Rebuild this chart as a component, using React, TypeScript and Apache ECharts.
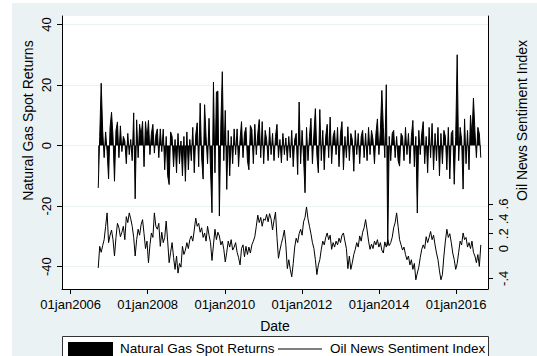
import React, { useEffect, useRef } from "react";
import * as echarts from "echarts";

// Biweekly observations starting on this date
const startDate = "2006-09-19";
const stepDays = 14;

// Natural Gas Spot Returns (left axis)
const returns: number[] = [
  -14, 3, 20.6, 5, -4, 4.5, -2, -11, 6, 11,
  3, -11.8, 5, 7.8, -4, 6.5, -2, 3, 1.5, -6,
  4, -3, 2, -5, 10.8, -17.6, 8.5, -4, 7, 3,
  8, -7, 7.9, 2, 8.3, -3, 4, 7, -2.5, 3.5,
  5.5, -4, 5.5, -2, 5.4, -8, 3, -10, -12.9, 4.5,
  3, -7, 2, -9, 4, -6, 1.5, -10, 3, -11.8,
  4.5, -8, 2, -5, 6, -9, 3.5, 7.5, -7, 14,
  -4, -11.1, 13.5, 3, -6, 9, -8, -22.2, 21, -9,
  17.7, 18, -23.3, 7, 24.4, -5, 11.6, -14.5, 5, -10,
  3, -6, 5.5, -3, 5.5, -7, 2, 7.9, -4, 4,
  6, -5, -8, 6.6, 5.3, -6, 7, -3, 4, 8.6,
  -4, 7.9, -6, 5, 2, -5, 6, -3, 4, -5,
  3, 7, -4, 2, -5.7, 4, -3, 2.5, -5, 3,
  -4, 5, -7, 2, 4, -9.6, 14.4, -6, 5, -4,
  -15.6, 6, -5, 3, 9, -6, 4, 12.2, -3, -9,
  11.9, -5, 5, -8, 3, 7, -4, 9.4, -6, 3,
  5, -3, 6, -7, 4, 7.9, -8, 3, -4, 6.2,
  -5, 4, 2, -8.5, 5, -3, 4, -6, 3, 5,
  -4, 4, -5, 6, -3, 5, 2, -6, 4, 8.8,
  -3, 5, 18.2, 6, -4, 20.1, -33, 3, -5, 4,
  5, -4, 3, -5, -6.8, 4, 3, -5, 6, -3,
  4, -6, 3, 8.3, -7, 3, -22.3, 5, -3, 4,
  7.9, -6, 3, -9, 6, -4, 7.3, -8, 4, -5,
  6, -10, 4, -6, 5, 3, -8, 6, -11, 4,
  5, -12.8, 3, 30, -5, 6, 2, -14.4, 8.8, -6,
  5, -8, 10, 3, 15.7, 5, -4, 6, 3.9, -4,
];

// Oil News Sentiment Index (right axis)
const sentiment: number[] = [
  -0.26, 0.03, -0.05, 0.04, 0.12, 0.3, 0.48, 0.08, 0.18, 0.25,
  0.12, -0.1, 0.15, 0.34, 0.28, 0.16, 0.22, 0.3, 0.12, 0.43,
  0.35, 0.48, 0.4, 0.3, 0.15, -0.1, 0.12, 0.26, 0.18, 0.32,
  0.39, 0.2, 0.0, 0.1, -0.19, 0.05, 0.21, 0.15, 0.48, 0.3,
  0.26, 0.34, 0.03, 0.22, 0.08, 0.15, 0.37, 0.1, -0.19, -0.05,
  0.08, -0.12, -0.28, -0.1, -0.33, -0.2, -0.25, 0.03, -0.08, -0.02,
  0.08, 0.0, 0.12, 0.17, 0.1, 0.25, 0.41, 0.3, 0.34, 0.22,
  0.28, 0.15, 0.21, 0.1, 0.3, 0.18, 0.08, -0.16, 0.05, 0.26,
  0.12, 0.22, 0.17, 0.05, 0.1, -0.01, -0.18, -0.05, 0.1, 0.02,
  0.12, -0.02, 0.02, 0.08, -0.05, -0.12, -0.22, 0.0, 0.05, -0.11,
  0.03, -0.08, 0.02, -0.06, 0.05, 0.1, 0.16, 0.3, 0.45, 0.35,
  0.42, 0.3, 0.4, 0.38, 0.46, 0.36, 0.47, 0.4, 0.25, 0.38,
  0.49, 0.15, -0.13, -0.02, 0.07, 0.15, 0.25, 0.05, -0.27, -0.15,
  -0.28, -0.38, -0.2, 0.02, 0.14, 0.08, 0.2, 0.26, 0.18, 0.36,
  0.42, 0.56, 0.4, 0.3, 0.2, 0.08, 0.0, -0.15, -0.35, -0.22,
  -0.15, -0.01, 0.1, 0.05, 0.15, 0.21, 0.12, 0.18, -0.01, 0.08,
  0.02, 0.1, 0.05, 0.14, 0.08, 0.18, 0.21, 0.1, 0.0, -0.27,
  -0.1, -0.28, -0.19, -0.08, -0.01, 0.08, 0.02, 0.17, 0.1, 0.22,
  0.28, 0.39, 0.25, 0.1, -0.01, 0.06, 0.0, 0.1, 0.05, 0.12,
  0.02, 0.08, -0.02, -0.06, 0.09, 0.02, 0.12, 0.04, 0.08, 0.15,
  0.28, 0.35, 0.48, 0.3, 0.12, 0.05, -0.02, 0.02, -0.08, -0.15,
  -0.1, -0.22, -0.15, -0.28, -0.2, -0.42, -0.33, -0.25, -0.12, -0.01,
  0.05, 0.0, 0.16, 0.08, 0.15, 0.23, 0.12, 0.18, 0.05, -0.06,
  -0.15, -0.3, -0.42, -0.35, -0.1, 0.1, 0.26, 0.15, 0.2, 0.08,
  -0.06, -0.15, -0.28, -0.2, -0.05, 0.1, 0.05, 0.21, 0.12, 0.15,
  0.02, 0.08, 0.0, 0.1, -0.05, -0.1, -0.19, -0.08, -0.24, 0.05,
];

const xTickYears = [2006, 2008, 2010, 2012, 2014, 2016];
const leftTicks = [-40, -20, 0, 20, 40];
const rightTicks = [-0.4, -0.2, 0, 0.2, 0.4, 0.6];

const DAY = 86400000;
const FONT = "'Liberation Sans', Arial, Helvetica, sans-serif";
const BG = "#EAF2F3";

export default function App() {
  const ref = useRef<HTMLDivElement>(null);

  useEffect(() => {
    document.body.style.margin = "0";
    const chart = echarts.init(ref.current as HTMLDivElement, null, { renderer: "svg" });
    const t0 = Date.parse(startDate + "T00:00:00Z");
    const base = Date.UTC(2006, 0, 1);
    const retData = returns.map((v, i) => [t0 + i * stepDays * DAY, v]);
    const senData = sentiment.map((v, i) => [t0 + i * stepDays * DAY, v]);
    const xTicks = xTickYears.map((y) => Date.UTC(y, 0, 1));

    const option: any = {
      animation: false,
      backgroundColor: "#ffffff",
      textStyle: { fontFamily: FONT },
      grid: { left: 62, top: 16, width: 426, height: 273, show: false, containLabel: false },
      xAxis: {
        type: "value",
        min: base - 82.5 * DAY,
        max: base + 3955 * DAY,
        name: "Date",
        nameLocation: "middle",
        nameGap: 30,
        nameTextStyle: { fontSize: 14, color: "#000", fontFamily: FONT },
        axisLine: { show: true, onZero: false, lineStyle: { color: "#000", width: 1 } },
        axisTick: { show: true, length: 5, customValues: xTicks, lineStyle: { color: "#000" } },
        axisLabel: {
          customValues: xTicks,
          fontSize: 13,
          color: "#000",
          margin: 9,
          fontFamily: FONT,
          showMinLabel: true,
          showMaxLabel: true,
          hideOverlap: false,
          formatter: (v: number) => "01jan" + new Date(v).getUTCFullYear(),
        },
        splitLine: { show: false },
      },
      yAxis: [
        {
          type: "value",
          position: "left",
          min: -47.4,
          max: 42.8,
          name: "Natural Gas Spot Returns",
          nameLocation: "middle",
          nameRotate: 90,
          nameGap: 27,
          nameMoveOverlap: false,
          nameTextStyle: { fontSize: 14, color: "#000", fontFamily: FONT, padding: [0, 0, 0, 64] },
          axisLine: { show: true, lineStyle: { color: "#000", width: 1 } },
          axisTick: { show: true, length: 5, customValues: leftTicks, lineStyle: { color: "#000" } },
          axisLabel: {
            customValues: leftTicks,
            rotate: 90,
            fontSize: 13,
            color: "#000",
            margin: 9,
            fontFamily: FONT,
            showMinLabel: true,
            showMaxLabel: true,
            hideOverlap: false,
          },
          splitLine: { show: true, lineStyle: { color: BG, width: 1 } },
        },
        {
          type: "value",
          position: "right",
          min: -0.544,
          max: 3.13,
          name: "Oil News Sentiment Index",
          nameLocation: "middle",
          nameRotate: 90,
          nameGap: 27,
          nameMoveOverlap: false,
          nameTextStyle: { fontSize: 14, color: "#000", fontFamily: FONT, padding: [0, 0, 0, 64] },
          axisLine: { show: true, lineStyle: { color: "#000", width: 1 } },
          axisTick: { show: true, length: 5, customValues: rightTicks, lineStyle: { color: "#000" } },
          axisLabel: {
            customValues: rightTicks,
            rotate: 90,
            fontSize: 13,
            color: "#000",
            margin: 9,
            fontFamily: FONT,
            showMinLabel: true,
            showMaxLabel: true,
            hideOverlap: false,
            formatter: (v: number) => {
              const r = Math.round(v * 10) / 10;
              return r === 0 ? "0" : String(r).replace("0.", ".");
            },
          },
          splitLine: { show: false },
        },
      ],
      series: [
        {
          name: "Natural Gas Spot Returns",
          type: "line",
          yAxisIndex: 0,
          data: retData,
          showSymbol: false,
          symbol: "none",
          lineStyle: { color: "#000", width: 1 },
          areaStyle: { color: "#000", opacity: 1, origin: "auto" },
          z: 3,
        },
        {
          name: "Oil News Sentiment Index",
          type: "line",
          yAxisIndex: 1,
          data: senData,
          showSymbol: false,
          symbol: "none",
          lineStyle: { color: "#000", width: 1 },
          z: 4,
        },
      ],
      graphic: [
        { type: "rect", z: -100, silent: true, shape: { x: 12, y: 3, width: 525, height: 353 }, style: { fill: BG } },
        { type: "rect", z: -99, silent: true, shape: { x: 62, y: 16, width: 426, height: 273 }, style: { fill: "#fff" } },
        { type: "rect", z: 50, silent: true, shape: { x: 62.5, y: 336.5, width: 426, height: 30 }, style: { fill: "#fff", stroke: "#333", lineWidth: 1 } },
        { type: "rect", z: 51, silent: true, shape: { x: 68, y: 342, width: 45, height: 20 }, style: { fill: "#000" } },
        { type: "text", z: 51, silent: true, x: 120, y: 348, style: { text: "Natural Gas Spot Returns", fontSize: 13.5, fontFamily: FONT, fill: "#000", verticalAlign: "middle", align: "left" } },
        { type: "line", z: 51, silent: true, shape: { x1: 278, y1: 349, x2: 322, y2: 349 }, style: { stroke: "#000", lineWidth: 1 } },
        { type: "text", z: 51, silent: true, x: 330, y: 348, style: { text: "Oil News Sentiment Index", fontSize: 13.5, fontFamily: FONT, fill: "#000", verticalAlign: "middle", align: "left" } },
      ],
    };

    chart.setOption(option);
    return () => chart.dispose();
  }, []);

  return <div ref={ref} style={{ position: "absolute", left: 0, top: 0, width: 537, height: 356 }} />;
}
